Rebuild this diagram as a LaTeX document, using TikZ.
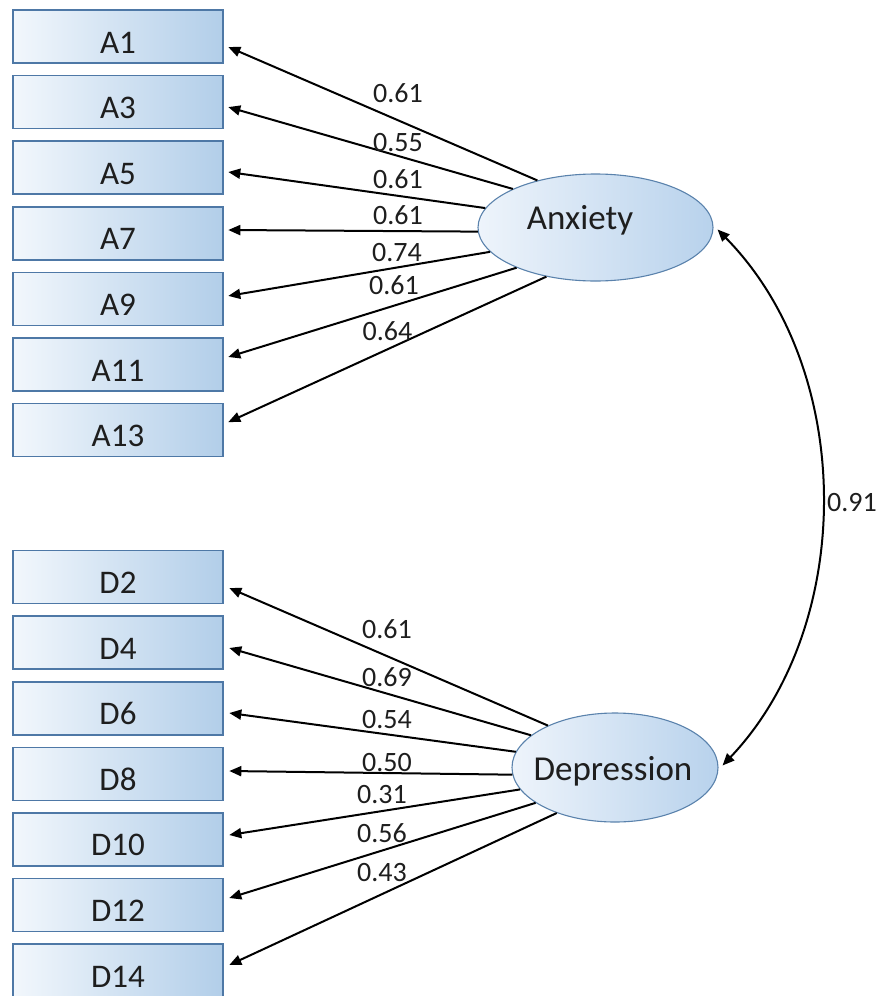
\documentclass[tikz,border=0pt]{standalone}
\usepackage{fontspec}
\setmainfont{Carlito}
\usetikzlibrary{arrows.meta,shapes.geometric}
\definecolor{boxL}{HTML}{F2F7FC}
\definecolor{boxR}{HTML}{B2CEE9}
\definecolor{boxB}{HTML}{4E78A6}
\definecolor{ellL}{HTML}{EEF4FB}
\definecolor{ellR}{HTML}{B8D2EC}
\definecolor{ellB}{HTML}{5A82AC}
\definecolor{txt}{HTML}{1E1E1E}
\begin{document}
\begin{tikzpicture}[x=1pt,y=-1pt,
  item/.style={draw=boxB, line width=1.6pt, left color=boxL, right color=boxR,
    minimum width=210pt, minimum height=53pt, inner sep=0pt,
    font=\fontsize{33}{36}\selectfont, text=txt, text height=33pt, text depth=0pt},
  latent/.style={ellipse, draw=ellB, line width=1.1pt, left color=ellL, right color=ellR, inner sep=0pt},
  latlabel/.style={font=\fontsize{35}{38}\selectfont, text=txt, inner sep=0pt},
  load/.style={line width=2pt, draw=black, -{Triangle[length=12pt,width=10pt]}},
  coef/.style={font=\fontsize{28}{30}\selectfont, text=txt, inner sep=0pt}]
\useasboundingbox (0,0) rectangle (890,996);

% observed items
\foreach \n/\y in {A1/36.5,A3/102.1,A5/167.7,A7/233.3,A9/298.9,A11/364.5,A13/430.1,
                   D2/577,D4/642.6,D6/708.2,D8/773.8,D10/839.4,D12/905,D14/970.6}
  \node[item] (\n) at (118,\y) {\n};

% latent variables
\node[latent, minimum width=235pt, minimum height=107pt,
  label={[latlabel, xshift=-15.5pt, yshift=7.5pt]center:Anxiety}] (Anx) at (595.5,227.5) {};
\node[latent, minimum width=206pt, minimum height=109pt,
  label={[latlabel, xshift=-2pt, yshift=-4pt]center:Depression}] (Dep) at (615,767.5) {};

% loadings
\foreach \n/\a/\dy in {A1/141/10.5,A3/155/5,A5/170.5/4.3,A7/182.7/-3.3,A9/193.6/-3,A11/207/-7.5,A13/225.6/-8}
  \draw[load] (Anx.\a) -- ([shift={(4.5,\dy)}]\n.east);
\foreach \n/\a/\dy in {D2/148.8/11,D4/159/5.4,D6/171/4.8,D8/184/-2.8,D10/193/-4.4,D12/204/-7,D14/218/-5.6}
  \draw[load] (Dep.\a) -- ([shift={(5.5,\dy)}]\n.east);

% coefficients
\node[coef] (cA1) at (398,93) {0.61};
\node[coef] (cA3) at (398,142.5) {0.55};
\node[coef] (cA5) at (398,179) {0.61};
\node[coef] (cA7) at (398,215) {0.61};
\node[coef] (cA9) at (397,252.5) {0.74};
\node[coef] (cA11) at (394,285) {0.61};
\node[coef] (cA13) at (387.5,331) {0.64};
\node[coef] (cD2) at (387,629) {0.61};
\node[coef] (cD4) at (387,677) {0.69};
\node[coef] (cD6) at (387,720) {0.54};
\node[coef] (cD8) at (387,763) {0.50};
\node[coef] (cD10) at (382,795) {0.31};
\node[coef] (cD12) at (382,833) {0.56};
\node[coef] (cD14) at (382,873) {0.43};

% correlation
\draw[line width=2pt, {Triangle[length=12pt,width=10pt]}-{Triangle[length=12pt,width=10pt]}]
  ([shift={(4,2)}]Anx.east) .. controls (856,370) and (856,625) .. ([shift={(4,-2)}]Dep.east);
\node[coef] (r) at (852,503) {0.91};
\end{tikzpicture}
\end{document}
